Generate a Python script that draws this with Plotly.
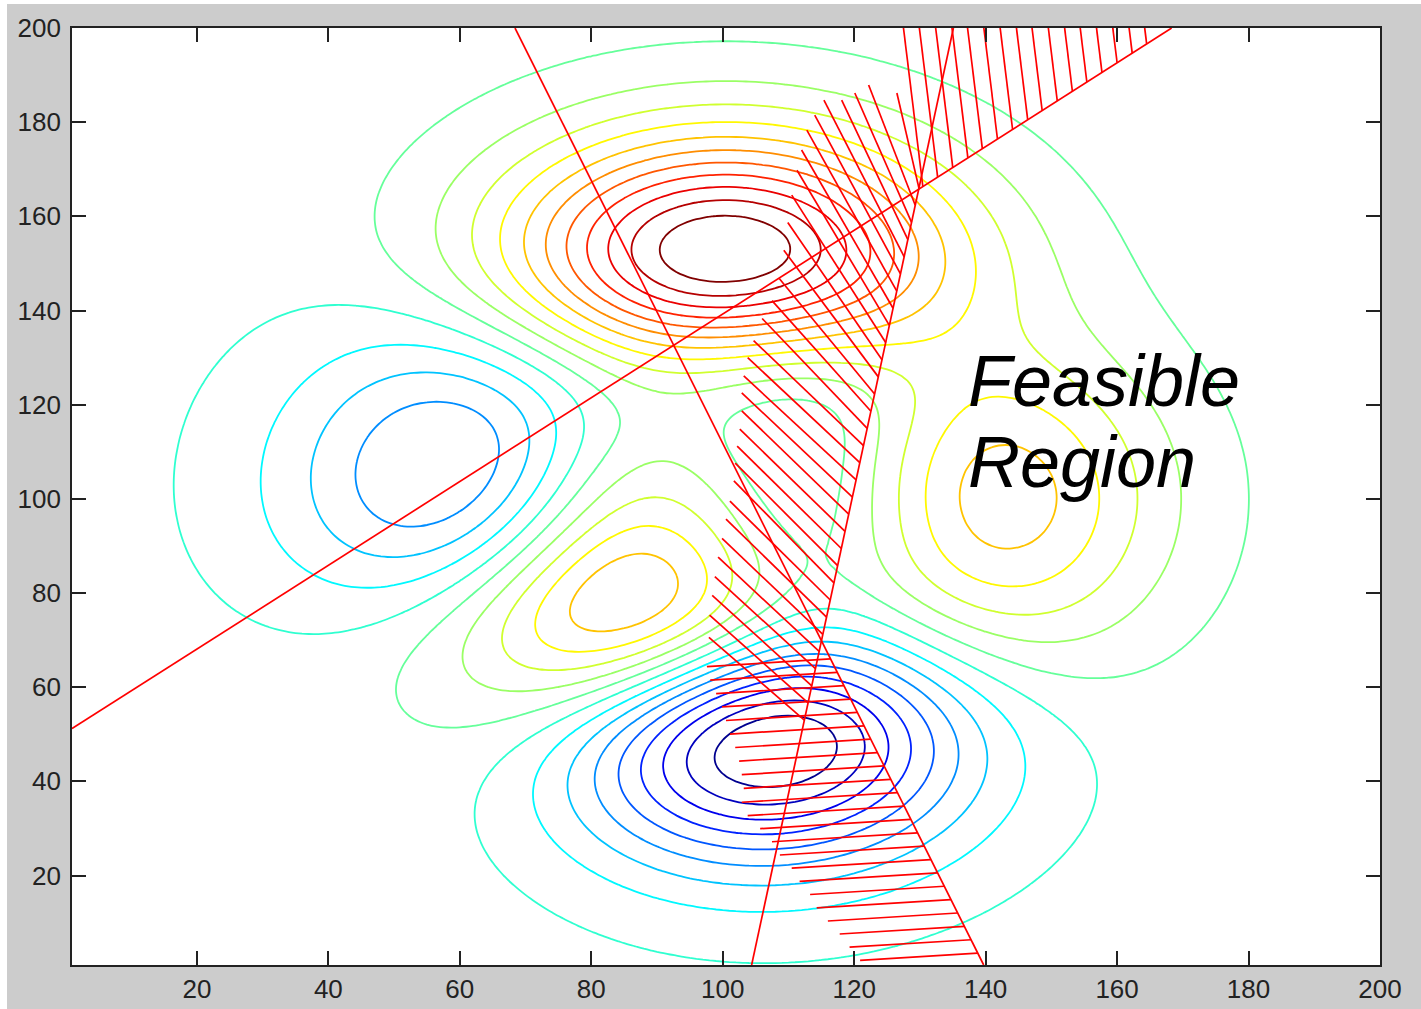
import numpy as np
import plotly.graph_objects as go

# ---- surface: MATLAB-style "peaks" sampled on a 200 x 200 index grid ----
GRID_N = 200
u = np.linspace(-3, 3, GRID_N)
U, V = np.meshgrid(u, u)
Z = (3 * (1 - U) ** 2 * np.exp(-U ** 2 - (V + 1) ** 2)
     - 10 * (U / 5 - U ** 3 - V ** 5) * np.exp(-U ** 2 - V ** 2)
     - 1 / 3 * np.exp(-(U + 1) ** 2 - V ** 2))
grid_idx = np.arange(1, GRID_N + 1)
N_LEVELS = 20
levels = np.linspace(Z.min(), Z.max(), N_LEVELS + 2)[1:-1]
level_step = levels[1] - levels[0]

# ---- linear constraint boundaries (end points in data units) ----
line_a_x = [1.0, 168.3]
line_a_y = [51.2, 200.0]
line_b_x = [68.4, 139.7]
line_b_y = [200.0, 1.0]
line_c_x = [104.4, 135.1]
line_c_y = [1.0, 200.0]

# ---- hatching on the infeasible side of each active boundary ----
# boundary A: anchors by x, strokes run up to the top of the axes
hatch_a_anchor_x = [130.45, 132.7, 135.0, 137.3, 139.5, 141.8, 144.1, 146.4,
                    148.6, 150.9, 153.2, 155.4, 157.7, 160.0, 162.3, 164.5]
hatch_a_tail_x = [127.50, 129.92, 132.40, 134.88, 137.25, 139.73, 142.21, 144.69,
                  147.06, 149.54, 152.02, 154.39, 156.87, 159.35, 161.83, 164.20]
hatch_a_tail_y = [200.0] * len(hatch_a_anchor_x)

# boundary C: anchors by y, strokes fan out to the upper left
hatch_c_anchor_y = [166.0 - 3.645 * i for i in range(32)]
hatch_c_tail_x = [126.5, 122.2, 120.1, 118.1, 115.4, 114.0, 112.8, 112.0,
                  111.3, 110.5, 109.9, 109.3, 108.6, 107.5, 106.0, 104.7,
                  103.8, 103.2, 102.9, 102.9, 102.6, 102.2, 101.9, 101.7,
                  101.1, 100.5, 99.9, 99.3, 98.8, 98.4, 98.0, 97.9]
hatch_c_tail_y = [186.2, 187.9, 186.2, 184.7, 184.7, 181.5, 178.3, 174.1,
                  169.8, 164.5, 158.7, 152.8, 146.8, 142.1, 138.3, 133.6,
                  130.0, 126.1, 122.5, 118.7, 114.8, 111.2, 107.6, 103.8,
                  99.5, 95.7, 91.6, 87.6, 83.5, 79.5, 75.3, 70.6]

# boundary B: anchors by y, nearly horizontal strokes to the left
hatch_b_anchor_y = [66.00, 63.16, 60.32, 57.48, 54.64, 51.80, 48.96, 46.12,
                    43.28, 40.44, 37.60, 34.76, 31.92, 29.08, 26.24, 23.40,
                    20.56, 17.72, 14.88, 12.04, 9.20, 6.36, 3.52]
hatch_b_tail_x = [97.6, 98.1, 99.0, 99.9, 100.5, 101.1, 101.9, 102.5,
                  102.9, 103.2, 102.9, 103.8, 105.7, 107.5, 108.7, 110.5,
                  111.7, 113.3, 114.3, 116.0, 117.8, 119.3, 120.9]
hatch_b_tail_y = [64.39, 61.50, 58.65, 55.80, 52.93, 50.05, 47.19, 44.32,
                  41.42, 38.52, 35.57, 32.72, 29.96, 27.18, 24.36, 21.59,
                  18.76, 15.97, 13.13, 10.35, 7.58, 4.78, 1.99]

# ---- axis ticks ----
tick_vals = [20, 40, 60, 80, 100, 120, 140, 160, 180, 200]
tick_text = [str(v) for v in tick_vals]

# MATLAB "jet" colour map
jet = [[0.0, "rgb(0,0,143)"], [0.125, "rgb(0,0,255)"], [0.375, "rgb(0,255,255)"],
       [0.625, "rgb(255,255,0)"], [0.875, "rgb(255,0,0)"], [1.0, "rgb(128,0,0)"]]

RED = "#ff0000"


def segments(ax, ay, bx, by):
    xs, ys = [], []
    for x0, y0, x1, y1 in zip(ax, ay, bx, by):
        xs += [x0, x1, None]
        ys += [y0, y1, None]
    return xs, ys


# anchor points placed on their boundary lines
a_anchor_y = np.interp(hatch_a_anchor_x, line_a_x, line_a_y)
c_anchor_x = np.interp(hatch_c_anchor_y, line_c_y, line_c_x)
b_anchor_x = np.interp(hatch_b_anchor_y, line_b_y[::-1], line_b_x[::-1])

fig = go.Figure()

fig.add_trace(go.Contour(
    x=grid_idx, y=grid_idx, z=Z,
    contours=dict(start=levels[0], end=levels[-1] + level_step * 0.01,
                  size=level_step, coloring="lines"),
    colorscale=jet, showscale=False,
    line=dict(width=1.8), hoverinfo="skip",
))

for lx, ly in ((line_a_x, line_a_y), (line_b_x, line_b_y), (line_c_x, line_c_y)):
    fig.add_trace(go.Scatter(x=lx, y=ly, mode="lines",
                             line=dict(color=RED, width=1.7),
                             hoverinfo="skip", showlegend=False))

for ax_, ay_, bx_, by_ in (
        (hatch_a_anchor_x, a_anchor_y, hatch_a_tail_x, hatch_a_tail_y),
        (c_anchor_x, hatch_c_anchor_y, hatch_c_tail_x, hatch_c_tail_y),
        (b_anchor_x, hatch_b_anchor_y, hatch_b_tail_x, hatch_b_tail_y)):
    hx, hy = segments(ax_, ay_, bx_, by_)
    fig.add_trace(go.Scatter(x=hx, y=hy, mode="lines",
                             line=dict(color=RED, width=1.7),
                             hoverinfo="skip", showlegend=False))

label_font = dict(family="Liberation Sans, Arial, sans-serif", size=72,
                  color="black", style="italic")
fig.add_annotation(x=137.0, y=125.0, text="Feasible", showarrow=False,
                   xanchor="left", yanchor="middle", font=label_font)
fig.add_annotation(x=137.0, y=107.8, text="Region", showarrow=False,
                   xanchor="left", yanchor="middle", font=label_font)

axis_common = dict(
    range=[1, 200], tickmode="array", tickvals=tick_vals, ticktext=tick_text,
    ticks="inside", ticklen=14, tickwidth=1.5, tickcolor="#222222",
    showline=True, linecolor="#222222", linewidth=1.6, mirror="ticks",
    showgrid=False, zeroline=False, automargin=False,
    tickfont=dict(family="Liberation Sans, Arial, sans-serif", size=26,
                  color="#222222"),
)
fig.update_xaxes(**axis_common, ticklabelstandoff=0)
fig.update_yaxes(**axis_common, ticklabelstandoff=4)

# thin white border strips at the left and top of the figure window
fig.add_shape(type="rect", xref="paper", yref="paper",
              x0=-0.08, x1=-0.0497, y0=-0.1, y1=1.1,
              fillcolor="white", line=dict(width=0))
fig.add_shape(type="rect", xref="paper", yref="paper",
              x0=-0.1, x1=1.1, y0=1.0256, y1=1.1,
              fillcolor="white", line=dict(width=0))

fig.update_layout(
    width=1421, height=1009,
    margin=dict(l=72, r=41, t=28, b=44, pad=0),
    paper_bgcolor="#cccccc", plot_bgcolor="white",
    showlegend=False,
)

fig.write_html("out.html")
